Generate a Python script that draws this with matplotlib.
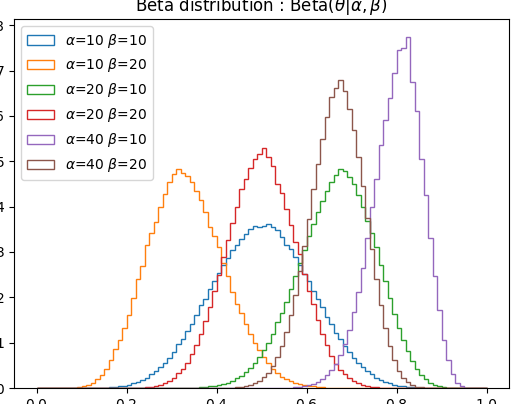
import numpy as np
import matplotlib.pyplot as plt

# histogram heights, bin width 0.01, first bin edge given by *_start
bin_width = 0.01

blue_start = 0.12   # alpha=10 beta=10
blue = [0.002, 0.004, 0.006, 0.01, 0.017, 0.025, 0.037, 0.054, 0.075, 0.10,
        0.14, 0.18, 0.23, 0.30, 0.37, 0.46, 0.56, 0.67, 0.80, 0.96,
        1.09, 1.25, 1.42, 1.62, 1.82, 1.97, 2.18, 2.35, 2.53, 2.71,
        2.87, 3.05, 3.16, 3.28, 3.40, 3.50, 3.58, 3.55,
        3.57, 3.62, 3.55, 3.48, 3.32, 3.15, 3.06, 2.88, 2.72, 2.52,
        2.35, 2.15, 1.96, 1.78, 1.56, 1.42, 1.22, 1.08, 0.93, 0.80,
        0.67, 0.55, 0.46, 0.37, 0.30, 0.23, 0.18, 0.14, 0.10, 0.075,
        0.054, 0.037, 0.025, 0.017, 0.01, 0.006, 0.004, 0.002]

orange_start = 0.08   # alpha=10 beta=20
orange = [0.01, 0.02, 0.04, 0.07, 0.12, 0.19, 0.29, 0.42, 0.62, 0.85,
          1.05, 1.33, 1.60, 1.98, 2.40, 2.68, 3.15, 3.42, 3.65, 4.00,
          4.28, 4.55, 4.72, 4.82, 4.75, 4.68, 4.55, 4.35, 4.15, 3.88,
          3.55, 3.36, 3.10, 2.76, 2.46, 2.12, 1.85, 1.65, 1.41, 1.19,
          1.00, 0.83, 0.68, 0.55, 0.42, 0.33, 0.25, 0.20, 0.16, 0.12,
          0.09, 0.065, 0.047, 0.034, 0.024, 0.017, 0.011, 0.008]

green_start = 0.34   # alpha=20 beta=10
green = [0.008, 0.011, 0.017, 0.024, 0.034, 0.047, 0.065, 0.09, 0.12, 0.16,
         0.21, 0.27, 0.35, 0.44, 0.55, 0.68, 0.83, 1.00, 1.19, 1.45,
         1.65, 1.90, 2.18, 2.46, 2.76, 3.05, 3.36, 3.62, 3.88, 4.12,
         4.35, 4.55, 4.70, 4.82, 4.78, 4.65, 4.50, 4.25, 4.00, 3.68,
         3.42, 3.10, 2.72, 2.35, 1.98, 1.64, 1.33, 1.05, 0.82, 0.60,
         0.42, 0.29, 0.19, 0.12, 0.07, 0.04, 0.02, 0.01]

red_start = 0.21   # alpha=20 beta=20
red = [0.003, 0.005, 0.01, 0.016, 0.027, 0.044, 0.068, 0.10, 0.15, 0.22,
       0.32, 0.42, 0.56, 0.74, 0.95, 1.19, 1.47, 1.78, 2.13, 2.50,
       2.88, 3.26, 3.63, 4.00, 4.38, 4.62, 4.85, 5.05, 5.15, 5.30,
       5.10, 4.90, 4.50, 4.30, 3.95, 3.60, 3.22, 2.95, 2.52, 2.15,
       1.85, 1.50, 1.18, 0.95, 0.70, 0.54, 0.40, 0.30, 0.22, 0.15,
       0.10, 0.068, 0.044, 0.027, 0.016, 0.01, 0.005, 0.003]

purple_start = 0.54   # alpha=40 beta=10
purple = [0.003, 0.006, 0.01, 0.016, 0.025, 0.039, 0.059, 0.089, 0.13, 0.19,
          0.28, 0.39, 0.54, 0.73, 0.98, 1.29, 1.67, 2.12, 2.64, 3.30,
          4.00, 4.60, 5.35, 5.90, 6.40, 6.95, 7.45, 7.50, 7.75, 6.75,
          6.10, 5.05, 4.25, 3.30, 2.46, 1.72, 1.06, 0.62, 0.30, 0.12,
          0.042, 0.01, 0.002]

brown_start = 0.42   # alpha=40 beta=20
brown = [0.005, 0.009, 0.015, 0.025, 0.041, 0.066, 0.10, 0.16, 0.24, 0.34,
         0.49, 0.68, 0.93, 1.24, 1.62, 2.06, 2.57, 3.13, 3.72, 4.38,
         4.93, 5.50, 5.98, 6.42, 6.62, 6.80, 6.55, 6.15, 5.70, 5.10,
         4.45, 3.75, 3.06, 2.40, 1.82, 1.32, 0.92, 0.61, 0.38, 0.23,
         0.13, 0.067, 0.032, 0.014, 0.006]

params = [(10, 10), (10, 20), (20, 10), (20, 20), (40, 10), (40, 20)]
series = [(blue_start, blue), (orange_start, orange), (green_start, green),
          (red_start, red), (purple_start, purple), (brown_start, brown)]

edges = np.linspace(0, 1, 101)
centers = (edges[:-1] + edges[1:]) / 2

fig = plt.figure(figsize=(5.12, 4.04), dpi=100)
ax = fig.add_axes([14 / 512, 16 / 404, 495 / 512, 369 / 404])

for (a, b), (start, h) in zip(params, series):
    vals = np.zeros(len(centers))
    i0 = int(round(start / bin_width))
    vals[i0:i0 + len(h)] = h
    ax.hist(centers, bins=edges, weights=vals, histtype='step',
            label=r'$\alpha$=%d $\beta$=%d' % (a, b))

ax.set_title(r'Beta distribution : Beta($\theta|\alpha,\beta$)')
ax.legend(loc='upper left')

fig.savefig('out.png', dpi=100)
